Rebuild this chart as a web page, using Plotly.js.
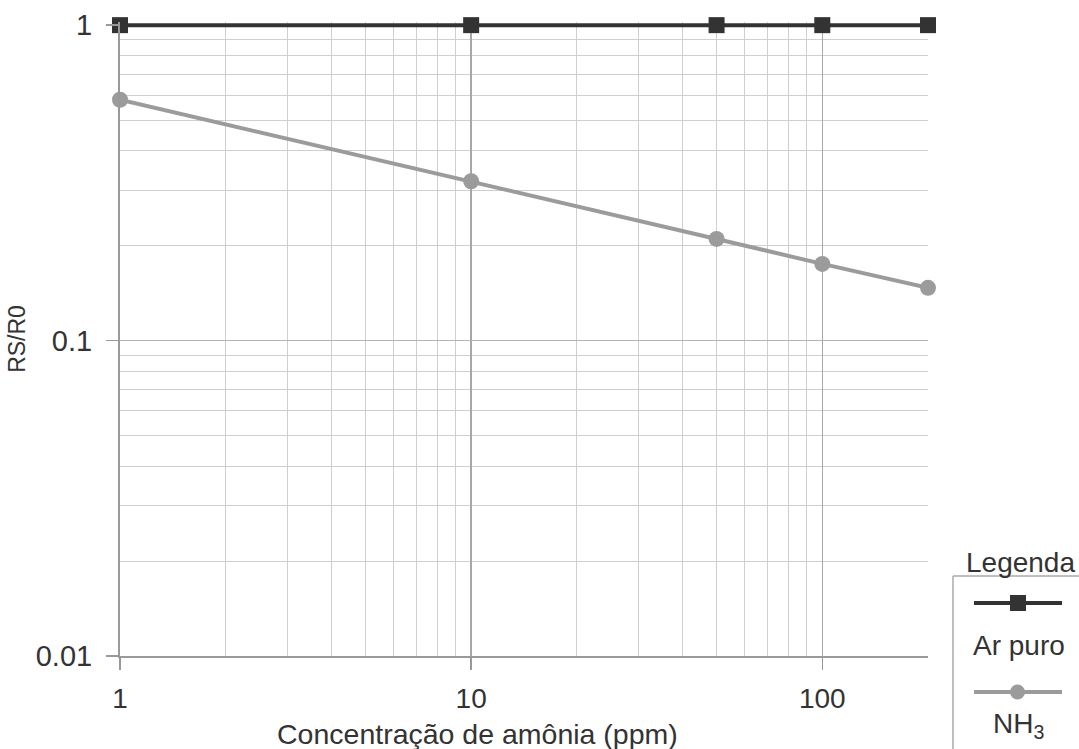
<!DOCTYPE html>
<html>
<head>
<meta charset="utf-8">
<script src="https://cdn.plot.ly/plotly-3.0.1.min.js"></script>
<style>html,body{margin:0;padding:0;background:#fff;}#chart{width:1079px;height:749px;}</style>
</head>
<body>
<div id="chart"></div>
<script>
// Data
var concentracao = [1, 10, 50, 100, 200];
var arPuro = [1, 1, 1, 1, 1];
var nh3 = [0.58, 0.32, 0.21, 0.175, 0.147];
var serieNomes = ["Ar puro", "NH<sub>3</sub>"];
var xTitulo = "Concentração de amônia (ppm)";
var yTitulo = "RS/R0";
var legendaTitulo = "Legenda";

var W = 1079, H = 749;
var L = 120, R = 151, T = 22, B = 93;
var pw = W - L - R, ph = H - T - B;
function px(x) { return (x - L) / pw; }
function py(y) { return (H - B - y) / ph; }

var FONT = "Liberation Sans, Arial, sans-serif";
var TXT = "#333333";
var DARK = "#333333";
var GRAY = "#9b9b9b";

var traces = [
  {x: concentracao, y: arPuro, name: serieNomes[0], type: "scatter", mode: "lines+markers",
   line: {color: DARK, width: 4}, marker: {symbol: "square", size: 16, color: DARK}, cliponaxis: false},
  {x: concentracao, y: nh3, name: serieNomes[1], type: "scatter", mode: "lines+markers",
   line: {color: GRAY, width: 4}, marker: {symbol: "circle", size: 16, color: GRAY}, cliponaxis: false}
];

var shapes = [
  // legend box
  {type: "line", xref: "paper", yref: "paper", x0: px(953), x1: px(953), y0: py(576), y1: py(760), line: {color: "#aaaaaa", width: 1.5}},
  {type: "line", xref: "paper", yref: "paper", x0: px(953), x1: px(1085), y0: py(576), y1: py(576), line: {color: "#aaaaaa", width: 1.5}},
  // legend sample 1
  {type: "line", xref: "paper", yref: "paper", x0: px(974), x1: px(1062), y0: py(603), y1: py(603), line: {color: DARK, width: 4}},
  {type: "rect", xref: "paper", yref: "paper", x0: px(1010), x1: px(1026), y0: py(595), y1: py(611), fillcolor: DARK, line: {width: 0}},
  // legend sample 2
  {type: "line", xref: "paper", yref: "paper", x0: px(974), x1: px(1062), y0: py(692), y1: py(692), line: {color: GRAY, width: 4}},
  {type: "circle", xref: "paper", yref: "paper", x0: px(1010), x1: px(1025), y0: py(684.5), y1: py(699.5), fillcolor: GRAY, line: {width: 0}}
];

var annotations = [
  {text: legendaTitulo, xref: "paper", yref: "paper", x: px(1020), y: py(562), showarrow: false, xanchor: "center", yanchor: "middle", font: {family: FONT, size: 28, color: TXT}},
  {text: serieNomes[0], xref: "paper", yref: "paper", x: px(1019), y: py(645), showarrow: false, xanchor: "center", yanchor: "middle", font: {family: FONT, size: 28, color: TXT}},
  {text: serieNomes[1], xref: "paper", yref: "paper", x: px(1018), y: py(725), showarrow: false, xanchor: "center", yanchor: "middle", font: {family: FONT, size: 28, color: TXT}},
  {text: xTitulo, xref: "paper", yref: "paper", x: px(477), y: py(734), showarrow: false, xanchor: "center", yanchor: "middle", font: {family: FONT, size: 28.5, color: TXT}}
];

var layout = {
  width: W, height: H,
  margin: {l: L, r: R, t: T, b: B, pad: 0},
  paper_bgcolor: "#ffffff", plot_bgcolor: "#ffffff",
  showlegend: false,
  font: {family: FONT, color: TXT},
  xaxis: {
    type: "log", range: [0, Math.log10(200)], dtick: 1, exponentformat: "none",
    showgrid: true, gridcolor: "#a6a6a6", gridwidth: 1.5,
    minor: {dtick: "D1", showgrid: true, gridcolor: "#cfcfcf", gridwidth: 1, ticks: ""},
    showline: true, linecolor: "#999999", linewidth: 2,
    ticks: "outside", ticklen: 12, tickwidth: 1.5, tickcolor: "#999999",
    ticklabelstandoff: 4,
    tickfont: {family: FONT, size: 28, color: TXT},
    zeroline: false, fixedrange: true
  },
  yaxis: {
    type: "log", range: [-2, 0.01], dtick: 1, exponentformat: "none",
    showgrid: true, gridcolor: "#b5b5b5", gridwidth: 1.5,
    minor: {dtick: "D1", showgrid: true, gridcolor: "#cfcfcf", gridwidth: 1, ticks: ""},
    showline: true, linecolor: "#999999", linewidth: 2,
    ticks: "outside", ticklen: 12, tickwidth: 1.5, tickcolor: "#999999",
    ticklabelstandoff: 8,
    tickfont: {family: FONT, size: 29, color: TXT},
    title: {text: yTitulo, font: {family: FONT, size: 23, color: TXT}, standoff: 4},
    zeroline: false, fixedrange: true
  },
  shapes: shapes,
  annotations: annotations
};

Plotly.newPlot("chart", traces, layout, {displayModeBar: false, staticPlot: true});
</script>
</body>
</html>
